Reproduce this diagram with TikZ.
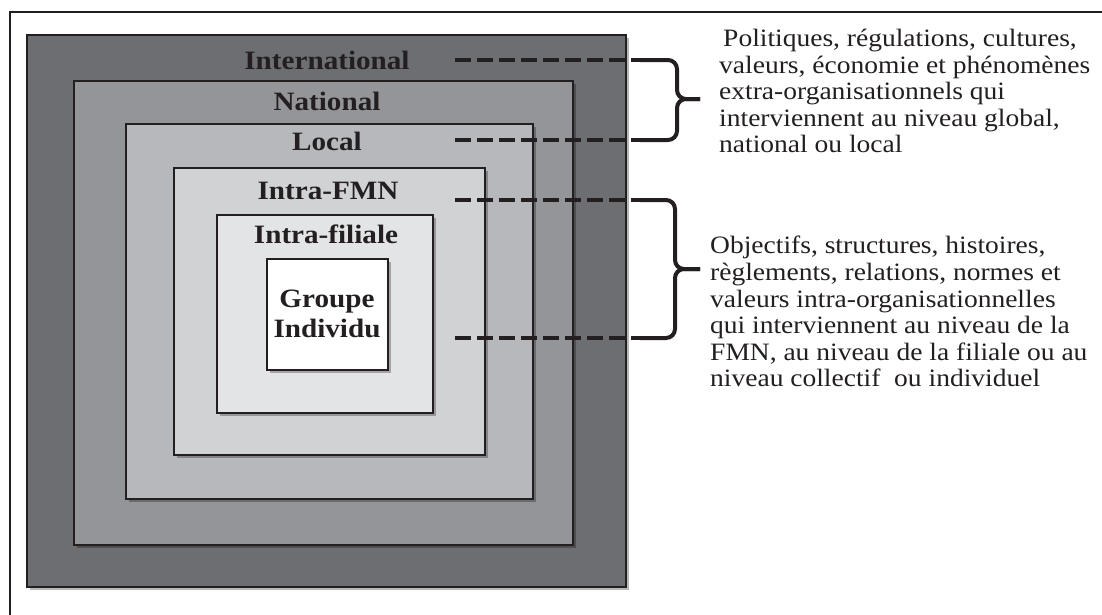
\documentclass[tikz,border=0pt]{standalone}
\usepackage{fontspec}
\setmainfont{Liberation Serif}[FakeStretch=1.1]
\usetikzlibrary{shadows}
\definecolor{ink}{HTML}{231F20}
\definecolor{lvlA}{HTML}{6D6E71}
\definecolor{lvlB}{HTML}{939598}
\definecolor{lvlC}{HTML}{B7B8BB}
\definecolor{lvlD}{HTML}{D1D2D4}
\definecolor{lvlE}{HTML}{E3E4E5}
\begin{document}
\begin{tikzpicture}[x=1pt,y=-1pt,
  levelbox/.style={draw=ink, line width=2.4pt,
    drop shadow={shadow xshift=3pt, shadow yshift=-3pt, opacity=0.28, fill=black}},
  levellabel/.style={font=\fontsize{26.5}{28}\selectfont\bfseries, text=ink,
    anchor=base, inner sep=0pt},
  dashline/.style={draw=ink, line width=4.5pt, dash pattern=on 16pt off 6pt},
  bracket/.style={draw=ink, line width=4pt, rounded corners=9pt},
  desc/.style={font=\fontsize{25}{26.6}\selectfont, text=ink, align=left,
    anchor=north west, inner sep=0pt}
]
\useasboundingbox (0,0) rectangle (1102,614);
\fill[white] (0,0) rectangle (1102,614);

% outer frame, running past the page edges on the right and bottom
\begin{scope}
  \clip (0,0) rectangle (1102,614);
  \draw[ink, line width=2pt] (10,12) rectangle (1130,650);
\end{scope}

% nested levels, from the outermost inwards
\path[levelbox, fill=lvlA] (27,35) rectangle (626,587);
\path[levelbox, fill=lvlB] (74,81) rectangle (573,545);
\path[levelbox, fill=lvlC] (126,124) rectangle (533,499);
\path[levelbox, fill=lvlD] (174,168) rectangle (485,455);
\path[levelbox, fill=lvlE] (217,215) rectangle (433,413);
\path[levelbox, fill=white] (267,259) rectangle (388,370);

\node[levellabel] (intl) at (327,69) {International};
\node[levellabel] (natl) at (327,110) {National};
\node[levellabel] (locl) at (327,150) {Local};
\node[levellabel] (fmn)  at (328,199) {Intra-FMN};
\node[levellabel] (fil)  at (326,243) {Intra-filiale};
\node[levellabel] (grp)  at (327,307) {Groupe};
\node[levellabel] (ind)  at (327,337) {Individu};

% bracket ends and tips
\coordinate (a1) at (455,60);  \coordinate (a2) at (640,60);
\coordinate (b1) at (455,140); \coordinate (b2) at (640,140);
\coordinate (tipA) at (700,99);
\coordinate (c1) at (455,200); \coordinate (c2) at (640,200);
\coordinate (d1) at (455,338); \coordinate (d2) at (640,338);
\coordinate (tipB) at (700,269);

\draw[dashline] (a1) -- (a2);
\draw[dashline] (b1) -- (b2);
\draw[dashline] (c1) -- (c2);
\draw[dashline] (d1) -- (d2);

\draw[bracket] (a2) -- (677,60) -- (677,99) -- (tipA);
\draw[bracket] (b2) -- (677,140) -- (677,99) -- (tipA);
\draw[bracket] (c2) -- (675,200) -- (675,269) -- (tipB);
\draw[bracket] (d2) -- (675,338) -- (675,269) -- (tipB);

\node[desc] (extra) at (719,29) {\hspace*{4pt}Politiques, régulations, cultures,\\
  valeurs, économie et phénomènes\\
  extra-organisationnels qui\\
  interviennent au niveau global,\\
  national ou local};
\node[desc] (intra) at (710,236) {Objectifs, structures, histoires,\\
  règlements, relations, normes et\\
  valeurs intra-organisationnelles\\
  qui interviennent au niveau de la\\
  FMN, au niveau de la filiale ou au\\
  niveau collectif\ \ ou individuel};
\end{tikzpicture}
\end{document}
